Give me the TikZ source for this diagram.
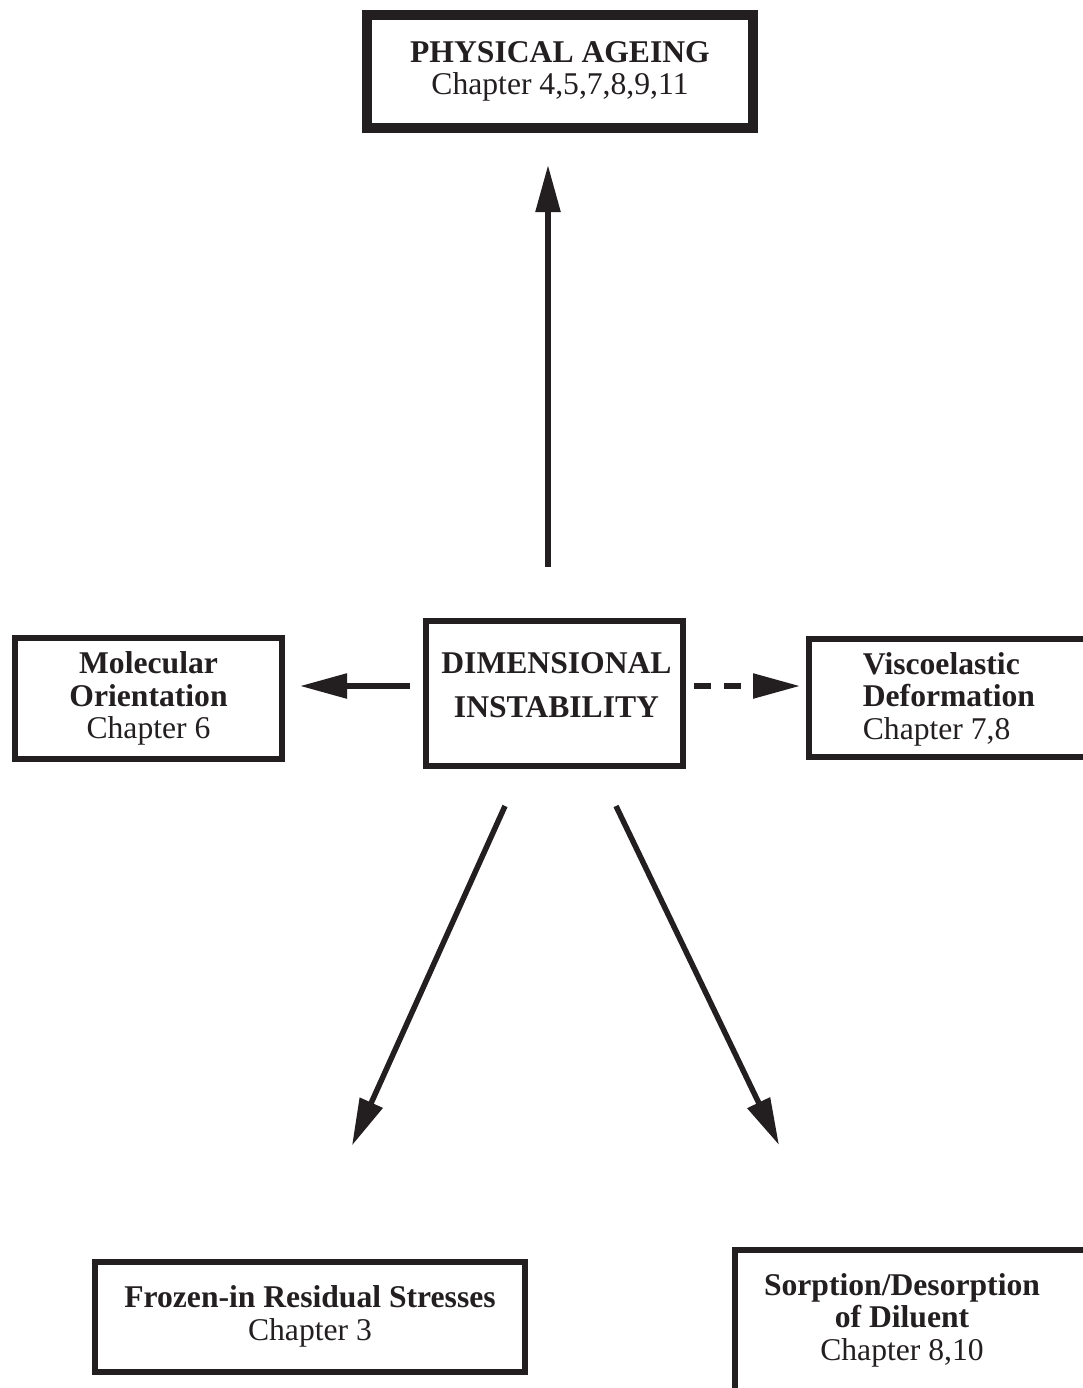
\documentclass[tikz,border=0pt]{standalone}
\usepackage{fontspec}
\setmainfont{Liberation Serif}
\usepackage{tikz}
\usetikzlibrary{arrows.meta,calc,positioning}
\definecolor{ink}{HTML}{231F20}

\begin{document}
\begin{tikzpicture}[x=0.2mm,y=-0.2mm,line join=miter,
  text=ink,
  box/.style={draw=ink,line width=1.2mm,fill=white,inner sep=0pt,align=center,
    font=\fontsize{18}{18.5}\selectfont},
  headbox/.style={box,line width=2mm},
  txt/.style={inner sep=0pt,align=center,font=\fontsize{18}{18.5}\selectfont},
  arr/.style={ink,line width=1.1mm,-{Triangle[length=9.4mm,width=4.8mm]}},
  dasharr/.style={arr,dash pattern=on 3.4mm off 2.6mm}]
\useasboundingbox (0,0) rectangle (1083,1388);
\fill[white] (0,0) rectangle (1083,1388);
\clip (0,0) rectangle (1083,1388);
\node[headbox,minimum width=77.2mm,minimum height=22.6mm] (age) at (560,71.5)
  {\textbf{PHYSICAL AGEING}\\Chapter 4,5,7,8,9,11};
\node[box,minimum width=53.4mm,minimum height=24.2mm] (mol) at (148.5,698.5)
  {\textbf{Molecular}\\\textbf{Orientation}\\Chapter 6};
\node[box,minimum width=51.4mm,minimum height=29mm] (dim) at (554.5,693.5) {};
\node[txt] (dimtext) at ($(dim.center)+(2,-8.5)$)
  {\textbf{DIMENSIONAL}\\[6.5pt]\textbf{INSTABILITY}};
\node[box,minimum width=57.4mm,minimum height=23.7mm] (visc) at (952,698) {};
\node[txt,align=left,anchor=west] (visctext) at ($(visc.west)+(57,1)$)
  {\textbf{Viscoelastic}\\\textbf{Deformation}\\Chapter 7,8};
\node[box,minimum width=86mm,minimum height=22mm] (froz) at (310,1316.5)
  {\textbf{Frozen-in Residual Stresses}\\Chapter 3};
\node[box,minimum width=80mm,minimum height=40mm] (sorp) at (935,1350) {};
\node[txt] (sorptext) at ($(sorp.north west)+(170,73)$)
  {\textbf{Sorption/Desorption}\\\textbf{of Diluent}\\Chapter 8,10};
% arrows out of the centre box
\draw[arr] ($(dim.north)+(-6.5,-51)$) -- ($(age.south)+(-12,32)$);
\draw[arr] ($(dim.west)+(-13,-7.5)$) -- ($(mol.east)+(15,-12.5)$);
\draw[dasharr] ($(dim.east)+(8,-7.5)$) -- ($(visc.west)+(-5.5,-12)$);
\draw[arr] ($(dim.south)+(-49.5,37)$) -- ($(froz.north)+(42,-113)$);
\draw[arr] ($(dim.south)+(61.5,37)$) -- ($(sorp.north west)+(47,-102)$);
\end{tikzpicture}
\end{document}
